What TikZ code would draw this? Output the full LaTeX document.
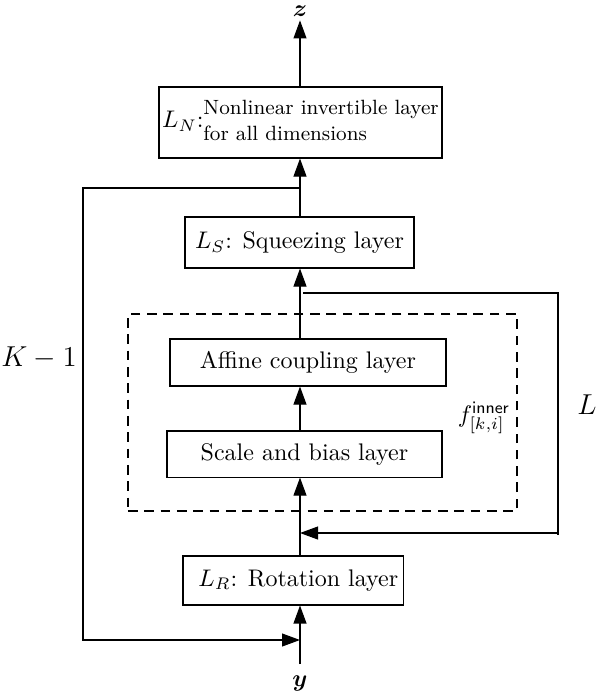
\documentclass[tikz,border=0pt]{standalone}
\usepackage{amsmath,amssymb,bm}
\usetikzlibrary{arrows.meta}
\begin{document}
\begin{tikzpicture}[x=0.41667pt,y=-0.41667pt,
  box/.style={draw, line width=0.45pt, inner sep=0pt, align=center},
  arr/.style={line width=0.45pt,-{Triangle[length=7.5pt,width=5.4pt]}},
  plain/.style={line width=0.45pt},
  dashbox/.style={draw, line width=0.45pt, dash pattern=on 4pt off 2.8pt, inner sep=0pt},
  lab/.style={inner sep=0pt}]
\useasboundingbox (0,0) rectangle (596,696);
% boxes
\node[box,minimum width=117.9pt,minimum height=29.6pt] (LN) at (300.5,122.5)
  {$L_N$:{\fontsize{8.6}{10.8}\selectfont\begin{tabular}{@{}l@{}}Nonlinear invertible layer\\for all dimensions\end{tabular}}};
\node[box,minimum width=95.4pt,minimum height=21.25pt] (LS) at (299.5,242.5) {$L_S$: Squeezing layer};
\node[box,minimum width=115pt,minimum height=19.6pt] (AC) at (308,362.5) {Affine coupling layer};
\node[box,minimum width=114.6pt,minimum height=19.2pt] (SB) at (304.5,454) {Scale and bias layer};
\node[box,minimum width=91.7pt,minimum height=20.4pt] (LR) at (293,580.5) {\hspace*{4.5pt}$L_R$: Rotation layer};
\node[dashbox,minimum width=162.1pt,minimum height=82.1pt] (IN) at (322.5,412.5) {};
% labels
\node[inner sep=1.5pt] (z) at (300,11) {$\boldsymbol{z}$};
\node[lab] (y) at (300,683) {$\boldsymbol{y}$};
\node[lab] (flab) at (484,418) {$f^{\mathsf{inner}}_{[k,i]}$};
\node[lab] (klab) at (39,358) {\large $K-1$};
\node[lab] (llab) at (587,405) {\large $L$};
% coordinates
\coordinate (mx) at (300,0);
\coordinate (yin) at (300,664);
\coordinate (k1) at (300,188);
\coordinate (ka) at (83,188);
\coordinate (kb) at (83,640);
\coordinate (kc) at (300,640);
\coordinate (la) at (303,293);
\coordinate (lb) at (558,293);
\coordinate (lc) at (558,535);
\coordinate (ld) at (558,533);
\coordinate (le) at (300,533);
% main line
\draw[arr] (mx |- LN.north) -- (z.south);
\draw[arr] (mx |- LS.north) -- (mx |- LN.south);
\draw[arr] (mx |- AC.north) -- (mx |- LS.south);
\draw[arr] (mx |- SB.north) -- (mx |- AC.south);
\draw[arr] (mx |- LR.north) -- (mx |- SB.south);
\draw[arr] (yin) -- (mx |- LR.south);
% loops
\draw[arr] (k1) -- (ka) -- (kb) -- (kc);
\draw[plain] (la) -- (lb) -- (lc);
\draw[arr] (ld) -- (le);
\end{tikzpicture}
\end{document}
